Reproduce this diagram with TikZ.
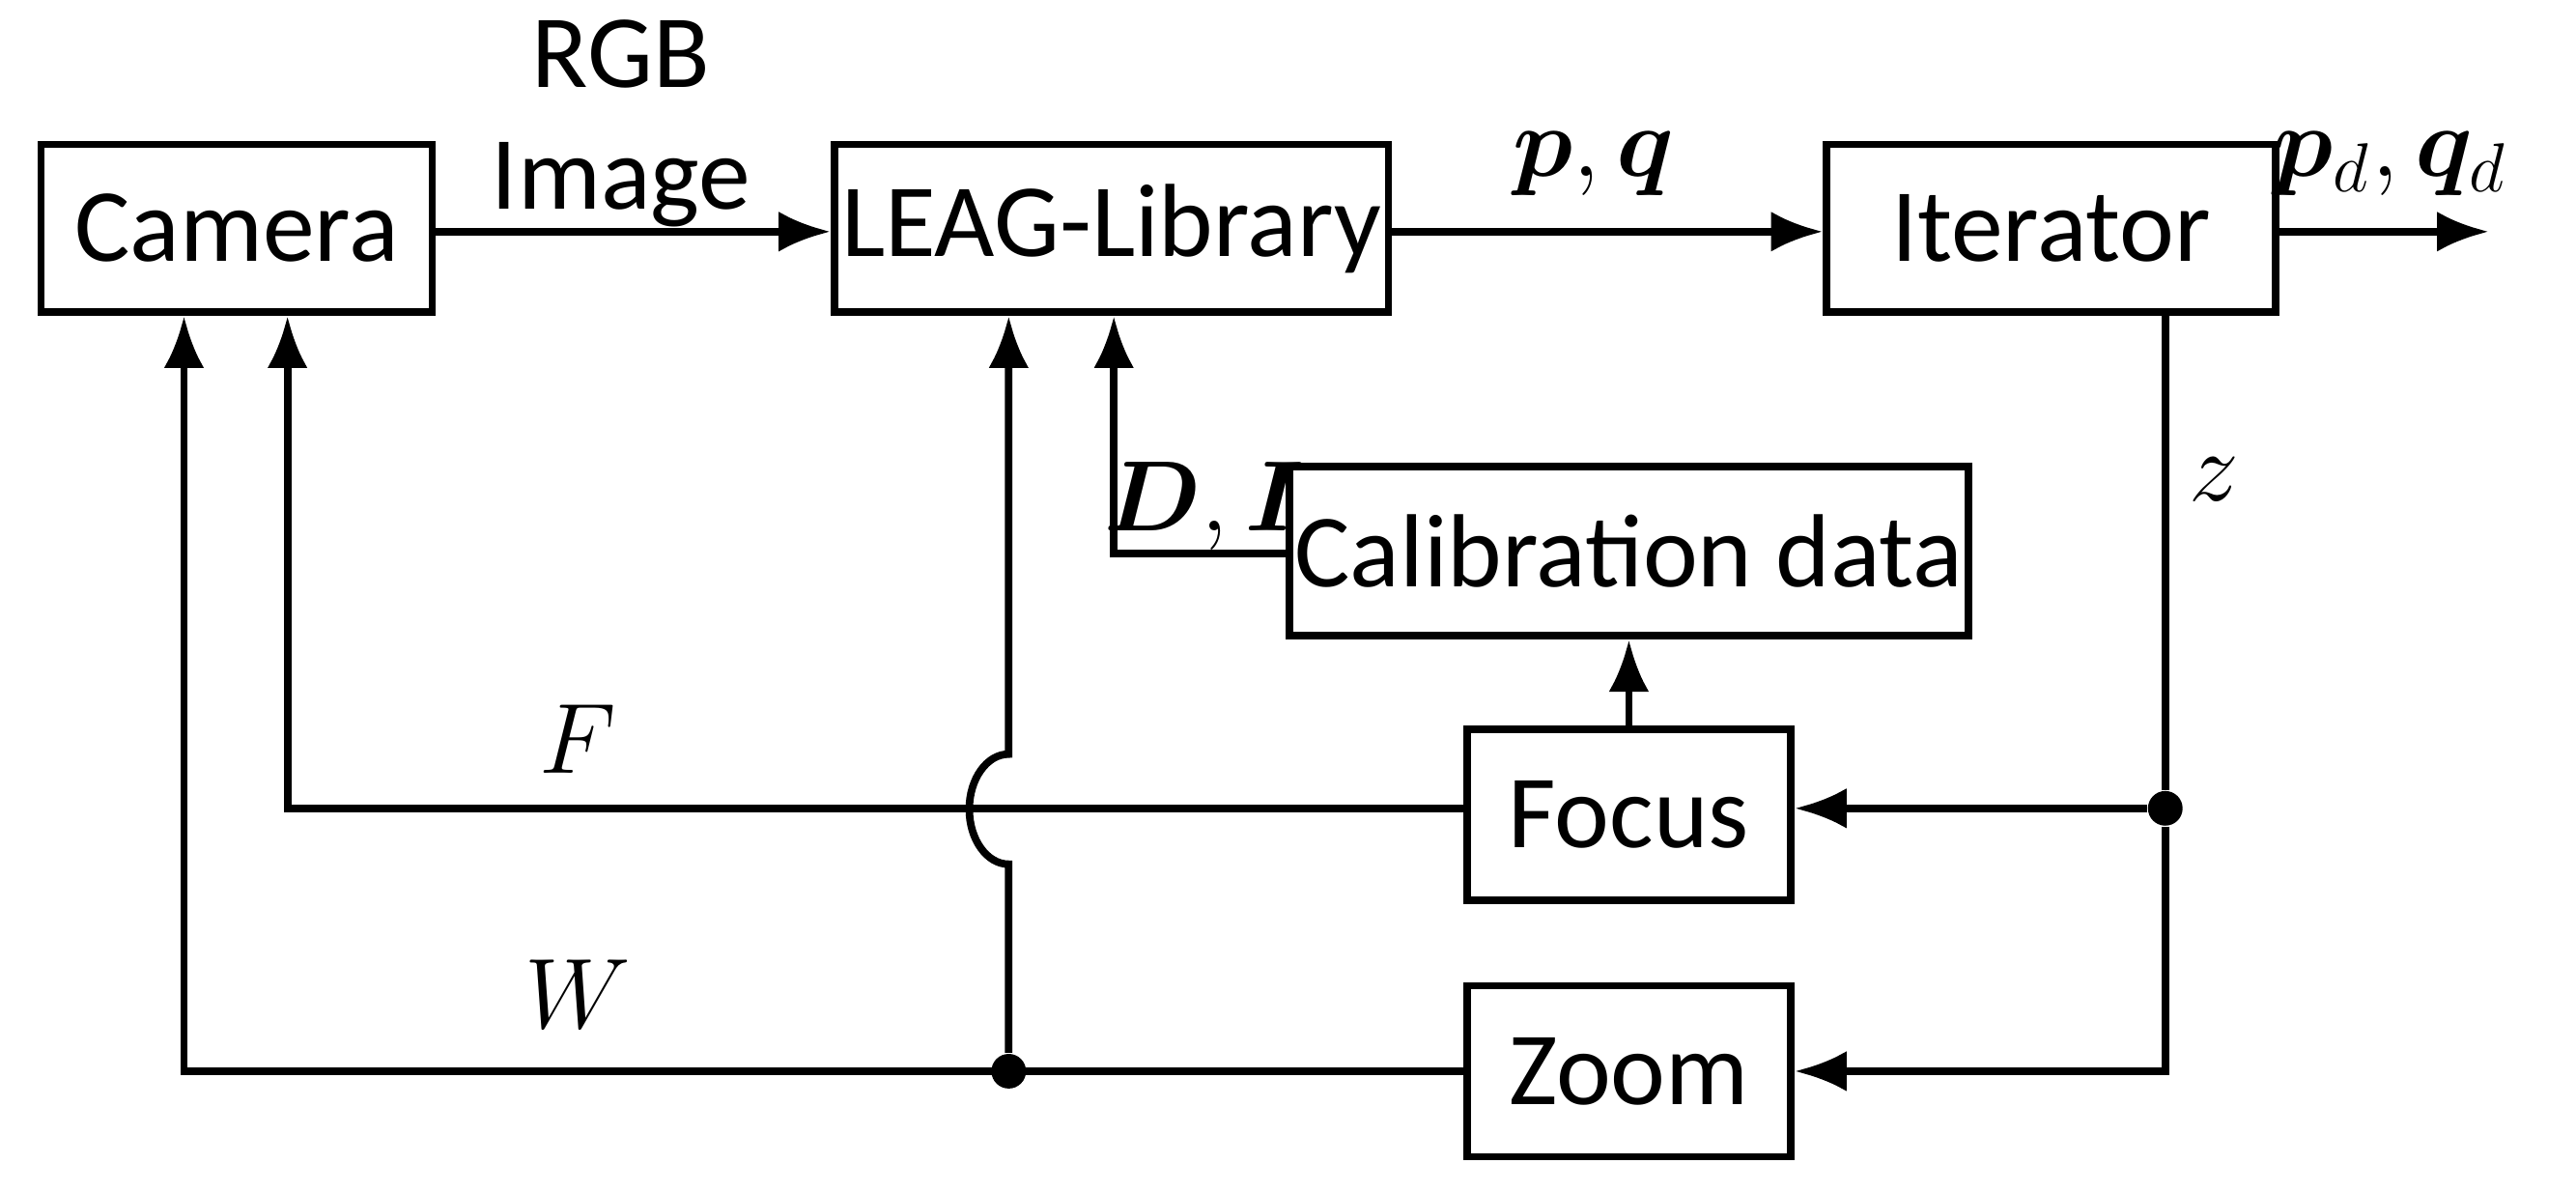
\documentclass[tikz,border=0pt]{standalone}
\usepackage{amsmath,bm}
\usepackage{fontspec}
\setmainfont{Carlito}
\usetikzlibrary{arrows.meta}
\begin{document}
\begin{tikzpicture}[x=0.01cm,y=-0.01cm,
  box/.style={draw,line width=1.3pt,inner sep=0pt,font=\fontsize{18}{21}\selectfont},
  lab/.style={font=\fontsize{18}{21}\selectfont},
  ln/.style={line width=1.3pt},
  ar/.style={line width=1.3pt,-{Latex[length=9pt,width=7pt]}},
  dot/.style={circle,fill,inner sep=0pt,minimum size=6pt}]
\useasboundingbox (0,0) rectangle (1568,725);
\node[box,minimum width=2.38cm,minimum height=1.02cm] (cam) at (144,139) {Camera};
\node[box,minimum width=3.37cm,minimum height=1.02cm] (leag) at (676.5,139) {LEAG-Library};
\node[box,minimum width=2.73cm,minimum height=1.02cm] (it) at (1248.5,139) {Iterator};
\node[box,minimum width=4.13cm,minimum height=1.03cm] (cal) at (991.5,335.5) {Calibration data};
\node[box,minimum width=1.97cm,minimum height=1.04cm] (foc) at (991.5,496) {Focus};
\node[box,minimum width=1.97cm,minimum height=1.04cm] (zoom) at (991.5,652) {Zoom};
\coordinate (out) at (1515,141);
\node[dot] (d1) at (1318,492) {};
\node[dot] (d2) at (614,652) {};
\node[lab,align=center] (rgb) at (378,75) {RGB\\Image};
\node[lab] (pq) at (970,100) {$\bm{p},\bm{q}$};
\node[lab] (pqd) at (1455,100) {$\bm{p}_d,\bm{q}_d$};
\node[lab] (z) at (1348,292) {$z$};
\node[lab] (di) at (733,308) {$\bm{D},\bm{I}$};
\node[lab] (F) at (352,450) {$F$};
\node[lab] (W) at (352,605) {$W$};
\draw[ar] (cam.east |- 0,141) -- (leag.west |- 0,141);
\draw[ar] (leag.east |- 0,141) -- (it.west |- 0,141);
\draw[ar] (it.east |- 0,141) -- (out);
\draw[ln] (it.south -| d1) -- (d1);
\draw[ar] (d1) -- (foc.east |- d1);
\draw[ar] (d1) -- (1318,652) -- (zoom.east);
\draw[ar] (cal.north |- foc.north) -- (cal.south);
\draw[ar] (cal.west |- 0,337) -- (678,337) -- (678,0 |- leag.south);
\draw[ar] (foc.west |- 0,492) -- (175,492) -- (175,0 |- cam.south);
\draw[ar] (zoom.west) -- (112,652) -- (112,0 |- cam.south);
\draw[ar] (d2) -- (614,526) arc[start angle=90,end angle=270,x radius=24,y radius=33.5] -- (614,0 |- leag.south);
\end{tikzpicture}
\end{document}
